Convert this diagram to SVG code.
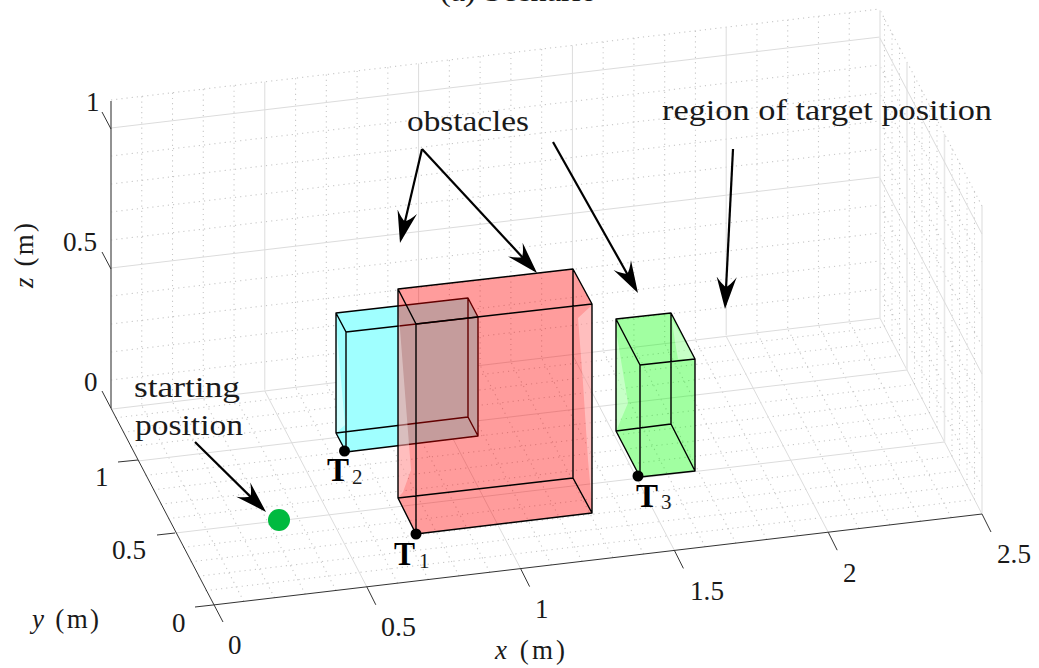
<svg xmlns="http://www.w3.org/2000/svg" width="1039" height="668" viewBox="0 0 1039 668">
<style>
text{font-family:"Liberation Serif","Times New Roman",serif;font-size:27px;fill:#1a1a1a}
.n{font-size:30px}
.i{font-style:italic}
.b{font-weight:bold;font-size:33px;fill:#000}
.s{font-size:21px;fill:#1a1a1a}
.min{fill:none;stroke:#c8c8c8;stroke-width:1.1;stroke-dasharray:1.2 4;vector-effect:non-scaling-stroke}
.maj{fill:none;stroke:#dcdcdc;stroke-width:1;vector-effect:non-scaling-stroke}
.ax{fill:none;stroke:#333;stroke-width:1}
.edge{fill:none;stroke:#000;stroke-width:1.4;stroke-linejoin:round}
.arr{fill:none;stroke:#000;stroke-width:2.2;marker-end:url(#st)}
</style>
<defs>
<marker id="st" markerUnits="userSpaceOnUse" markerWidth="36" markerHeight="24" refX="28" refY="12" orient="auto" viewBox="0 0 36 24"><path d="M32 12L0 2Q8 8 10 12Q8 16 0 22Z" fill="#000"/></marker>
</defs>
<rect width="1039" height="668" fill="#fff"/>
<g id="grid">
<g transform="matrix(307.6 -36.4 -75 -144 213 605)">
<path class="min" d="M.1 0V1.36M.2 0V1.36M.3 0V1.36M.4 0V1.36M.6 0V1.36M.7 0V1.36M.8 0V1.36M.9 0V1.36M1.1 0V1.36M1.2 0V1.36M1.3 0V1.36M1.4 0V1.36M1.6 0V1.36M1.7 0V1.36M1.8 0V1.36M1.9 0V1.36M2.1 0V1.36M2.2 0V1.36M2.3 0V1.36M2.4 0V1.36"/>
<path class="min" d="M0 .1H2.5M0 .2H2.5M0 .3H2.5M0 .4H2.5M0 .6H2.5M0 .7H2.5M0 .8H2.5M0 .9H2.5M0 1.1H2.5M0 1.2H2.5M0 1.3H2.5"/>
<path class="maj" d="M.5 0V1.36M1 0V1.36M1.5 0V1.36M2 0V1.36M2.5 0V1.36M0 .5H2.5M0 1H2.5M0 1.36H2.5"/>
</g>
<g transform="matrix(307.6 -36.4 0 -280 111 408)">
<path class="min" d="M.1 0V1.1M.2 0V1.1M.3 0V1.1M.4 0V1.1M.6 0V1.1M.7 0V1.1M.8 0V1.1M.9 0V1.1M1.1 0V1.1M1.2 0V1.1M1.3 0V1.1M1.4 0V1.1M1.6 0V1.1M1.7 0V1.1M1.8 0V1.1M1.9 0V1.1M2.1 0V1.1M2.2 0V1.1M2.3 0V1.1M2.4 0V1.1"/>
<path class="min" d="M0 .1H2.5M0 .2H2.5M0 .3H2.5M0 .4H2.5M0 .6H2.5M0 .7H2.5M0 .8H2.5M0 .9H2.5M0 1.1H2.5"/>
<path class="maj" d="M.5 0V1.1M1 0V1.1M1.5 0V1.1M2 0V1.1M0 .5H2.5M0 1H2.5"/>
</g>
<g transform="matrix(-75 -144 0 -280 982 514)">
<path class="min" d="M.1 0V1.1M.2 0V1.1M.3 0V1.1M.4 0V1.1M.6 0V1.1M.7 0V1.1M.8 0V1.1M.9 0V1.1M1.1 0V1.1M1.2 0V1.1M1.3 0V1.1M0 .1H1.36M0 .2H1.36M0 .3H1.36M0 .4H1.36M0 .6H1.36M0 .7H1.36M0 .8H1.36M0 .9H1.36M0 1.1H1.36"/>
<path class="maj" style="stroke-width:1.5;stroke:#e8e8e8" d="M0 0V1.1M.5 0V1.1M1 0V1.1M1.36 0V1.1"/>
<path class="maj" d="M0 .5H1.36M0 1H1.36"/>
</g>
</g>
<g id="axes">
<path d="M111 101V408" fill="none" stroke="#777" stroke-width="1.6"/>
<path class="ax" d="M102 391L223 622M213 605L982 514M982 514L991 532M213 605L195 607M175 533L157 535M138 460L118 462M111 129L102 112M111 269L102 252M366.800 586.800L375.800 604.800M520.600 568.600L529.600 586.600M674.400 550.400L683.400 568.400M828.200 532.200L837.200 550.200"/>
</g>
<g id="box-T2">
<path d="M336 313L468 298L478 317V436L346 452L336 433Z" fill="#a0ffff"/>
<path d="M336.700 330L345 425L337 432Z" fill="#fff" opacity=".5"/>
<path class="edge" d="M336 313L468 298L478 317V436L346 452L336 433ZM336 313L346 332L478 317M346 332V452M468 298V417M336 433L468 417L478 436"/>
</g>
<g id="box-T1">
<path d="M398 289L573 269L592 304V513L416 534L398 498Z" fill="#ff0000" fill-opacity=".39"/>
<path d="M591 306L578 318L583 383L588 460L592 505V306ZM398.500 310L411 470L403 492L398.500 497Z" fill="#fff" opacity=".35"/>
<path class="edge" d="M398 289L573 269L592 304V513L416 534L398 498ZM398 289L416 324L592 304M416 324V534M573 269V478M398 498L573 478L592 513"/>
</g>
<g id="box-T3">
<path d="M616 319L671 313L695 359V471L640 477L616 431Z" fill="#00ff00" fill-opacity=".37"/>
<path d="M616.500 333L628 403L617 429ZM672 320L675 342L678 359H695Z" fill="#fff" opacity=".4"/>
<path class="edge" d="M616 319L671 313L695 359V471L640 477L616 431ZM616 319L640 365L695 359M640 365V477M671 313V424M616 431L671 424L695 471"/>
</g>
<g id="connectors">
<path class="arr" d="M422 149L400.900 239.100"/>
<path class="arr" d="M422 149L534.300 270.100"/>
<path class="arr" d="M553 142L636 289.500"/>
<path class="arr" d="M733 149L725.200 305"/>
<path class="arr" d="M195 442L263.200 509.200"/>
</g>
<g id="start"><circle cx="279" cy="520" r="11" fill="#00ba3f"/></g>
<g id="points" fill="#000">
<circle cx="416" cy="534" r="5.500"/><circle cx="344.500" cy="451" r="5.500"/><circle cx="638" cy="476" r="5.500"/>
</g>
<g id="labels">
<text class="n" x="440" y="1" textLength="157" lengthAdjust="spacingAndGlyphs">(a) Scenario</text>
<text class="n" x="407" y="131" textLength="122" lengthAdjust="spacingAndGlyphs">obstacles</text>
<text class="n" x="662" y="120" textLength="330" lengthAdjust="spacingAndGlyphs">region of target position</text>
<text class="n" x="134" y="397" textLength="106" lengthAdjust="spacingAndGlyphs">starting</text>
<text class="n" x="135" y="435" textLength="108" lengthAdjust="spacingAndGlyphs">position</text>
<text x="86" y="111">1</text>
<text x="63" y="251" textLength="34" lengthAdjust="spacingAndGlyphs">0.5</text>
<text x="84" y="391">0</text>
<text x="95" y="486">1</text>
<text x="112" y="559" textLength="34" lengthAdjust="spacingAndGlyphs">0.5</text>
<text x="172" y="632">0</text>
<text x="228" y="654">0</text>
<text x="381" y="636" textLength="35" lengthAdjust="spacingAndGlyphs">0.5</text>
<text x="535" y="618">1</text>
<text x="690" y="600" textLength="34" lengthAdjust="spacingAndGlyphs">1.5</text>
<text x="843" y="582">2</text>
<text x="997" y="563" textLength="34" lengthAdjust="spacingAndGlyphs">2.5</text>
<text x="32" y="628" textLength="67"><tspan class="i">y</tspan> (m)</text>
<text x="495" y="659" textLength="70"><tspan class="i">x</tspan> (m)</text>
<text transform="translate(33 288) rotate(-90)" textLength="65"><tspan class="i">z</tspan> (m)</text>
<text class="b" x="394" y="565" textLength="21" lengthAdjust="spacingAndGlyphs">T</text><text class="s" x="419" y="568">1</text>
<text class="b" x="327" y="481" textLength="22" lengthAdjust="spacingAndGlyphs">T</text><text class="s" x="352" y="484">2</text>
<text class="b" x="636" y="507" textLength="22" lengthAdjust="spacingAndGlyphs">T</text><text class="s" x="661" y="509">3</text>
</g>
</svg>
